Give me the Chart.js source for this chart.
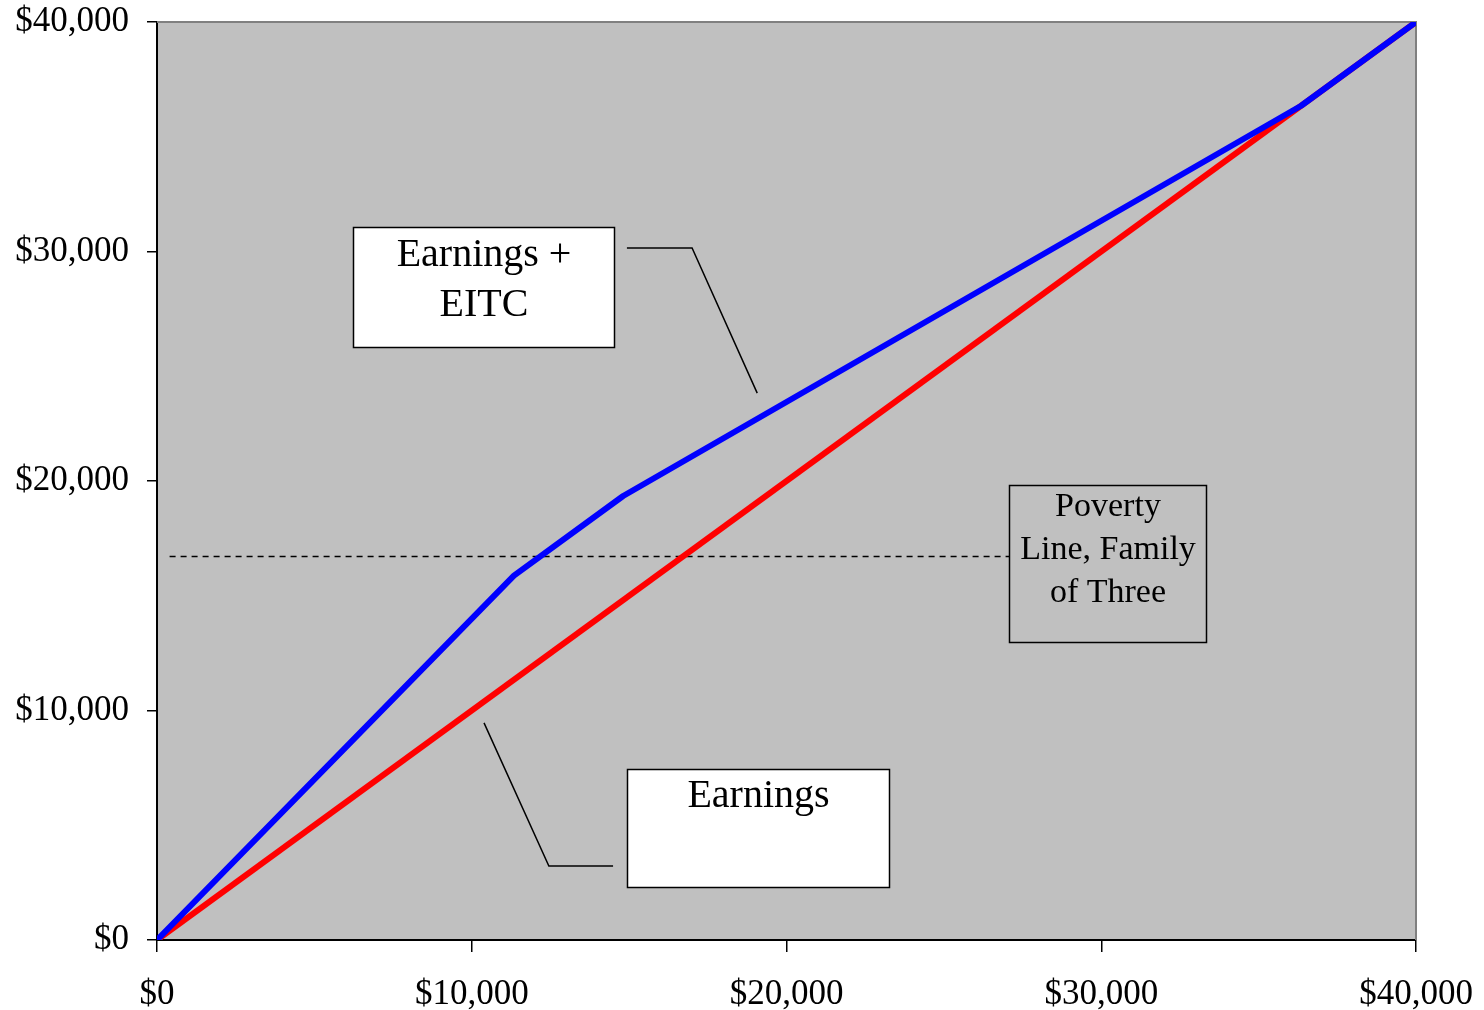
<!DOCTYPE html>
<html>
<head>
<meta charset="utf-8">
<script src="https://cdn.jsdelivr.net/npm/chart.js@4/dist/chart.umd.min.js"></script>
<style>
  html, body { margin: 0; padding: 0; background: #fff; }
  #wrap { width: 1484px; height: 1010px; position: relative; }
</style>
</head>
<body>
<div id="wrap"><canvas id="myChart"></canvas></div>
<script>
// earnings (x) and earnings plus EITC (y), family with two children
const eitcEarnings = [0, 11340, 14810, 36350, 40000];
const eitcTotal = [0, 15876, 19346, 36350, 40000];
const plainEarnings = [0, 40000];
const plainTotal = [0, 40000];
const povertyLine = 16730;
const axisTicks = [0, 10000, 20000, 30000, 40000];

const FONT = '"Liberation Serif", "Times New Roman", serif';

const toPoints = (xs, ys) => xs.map((x, i) => ({ x: x, y: ys[i] }));
const money = v => '$' + v.toLocaleString('en-US');

// text boxes and leader lines, in data units
const labels = [
    { lines: ['Earnings +', 'EITC'], x0: 6230, x1: 14520, y0: 31070, y1: 25840,
      fill: '#ffffff', size: 40, lh: 50, top: 28,
      leader: [[14930, 30150], [17000, 30150], [19070, 23830]] },
    { lines: ['Earnings'], x0: 14930, x1: 23260, y0: 7450, y1: 2310,
      fill: '#ffffff', size: 40, lh: 50, top: 27,
      leader: [[14490, 3220], [12450, 3220], [10390, 9460]] },
    { lines: ['Poverty', 'Line, Family', 'of Three'], x0: 27070, x1: 33330, y0: 19830, y1: 12980,
      fill: null, size: 34, lh: 43, top: 22, leader: null }
];

const decor = {
    id: 'decor',
    beforeDraw(chart) {
        const a = chart.chartArea, c = chart.ctx;
        c.save();
        c.fillStyle = '#c0c0c0';
        c.fillRect(a.left, a.top, a.right - a.left, a.bottom - a.top);
        c.restore();
    },
    beforeDatasetsDraw(chart) {
        const a = chart.chartArea, c = chart.ctx;
        const xs = chart.scales.x, ys = chart.scales.y;
        c.save();
        // grey top and right frame
        c.strokeStyle = '#808080';
        c.lineWidth = 2;
        c.beginPath();
        c.moveTo(a.left, a.top);
        c.lineTo(a.right, a.top);
        c.lineTo(a.right, a.bottom);
        c.stroke();
        // poverty line
        c.strokeStyle = '#000';
        c.lineWidth = 1.5;
        c.setLineDash([6, 5]);
        const py = Math.round(ys.getPixelForValue(povertyLine)) + 0.5;
        c.beginPath();
        c.moveTo(xs.getPixelForValue(400), py);
        c.lineTo(xs.getPixelForValue(27070), py);
        c.stroke();
        c.restore();
    },
    afterDatasetsDraw(chart) {
        const c = chart.ctx;
        const xs = chart.scales.x, ys = chart.scales.y;
        c.save();
        labels.forEach(l => {
            const left = Math.round(xs.getPixelForValue(l.x0)) + 0.5;
            const right = Math.round(xs.getPixelForValue(l.x1)) + 0.5;
            const top = Math.round(ys.getPixelForValue(l.y0)) + 0.5;
            const bottom = Math.round(ys.getPixelForValue(l.y1)) + 0.5;
            if (l.fill) {
                c.fillStyle = l.fill;
                c.fillRect(left, top, right - left, bottom - top);
            }
            c.strokeStyle = '#000';
            c.lineWidth = 1.5;
            c.strokeRect(left, top, right - left, bottom - top);
            c.fillStyle = '#000';
            c.font = l.size + 'px ' + FONT;
            c.textAlign = 'center';
            c.textBaseline = 'middle';
            l.lines.forEach((t, i) => {
                c.fillText(t, (left + right) / 2, top + l.top + i * l.lh);
            });
            if (l.leader) {
                c.lineWidth = 1.5;
                c.beginPath();
                l.leader.forEach((p, i) => {
                    const px = xs.getPixelForValue(p[0]), py = ys.getPixelForValue(p[1]);
                    if (i === 0) c.moveTo(px, py); else c.lineTo(px, py);
                });
                c.stroke();
            }
        });
        c.restore();
    }
};

const tickFont = { family: FONT, size: 35 };

new Chart(document.getElementById('myChart'), {
    type: 'scatter',
    data: {
        datasets: [
            {
                label: 'Earnings + EITC',
                data: toPoints(eitcEarnings, eitcTotal),
                showLine: true,
                borderColor: '#0000ff',
                borderWidth: 6,
                borderJoinStyle: 'round',
                pointRadius: 0,
                tension: 0
            },
            {
                label: 'Earnings',
                data: toPoints(plainEarnings, plainTotal),
                showLine: true,
                borderColor: '#ff0000',
                borderWidth: 6,
                pointRadius: 0
            }
        ]
    },
    options: {
        responsive: true,
        maintainAspectRatio: false,
        animation: false,
        layout: { padding: { top: 22, right: 68, left: 0, bottom: 0 } },
        scales: {
            x: {
                type: 'linear',
                min: 0,
                max: 40000,
                afterBuildTicks: s => { s.ticks = axisTicks.map(v => ({ value: v })); },
                afterFit: s => { s.height = 70; s.paddingLeft = 0; s.paddingRight = 0; },
                border: { color: '#000', width: 2 },
                grid: { drawOnChartArea: false, drawTicks: true, tickLength: 12, color: '#000', lineWidth: 1.5 },
                ticks: { color: '#000', font: tickFont, padding: 22, maxRotation: 0, callback: v => money(v) }
            },
            y: {
                type: 'linear',
                min: 0,
                max: 40000,
                afterBuildTicks: s => { s.ticks = axisTicks.map(v => ({ value: v })); },
                afterFit: s => { s.width = 157; s.paddingTop = 0; s.paddingBottom = 0; },
                border: { color: '#000', width: 2 },
                grid: { drawOnChartArea: false, drawTicks: true, tickLength: 10, color: '#000', lineWidth: 1.5 },
                ticks: { color: '#000', font: tickFont, padding: 18, callback: v => money(v) }
            }
        },
        plugins: {
            legend: { display: false },
            tooltip: { enabled: false }
        }
    },
    plugins: [decor]
});
</script>
</body>
</html>
